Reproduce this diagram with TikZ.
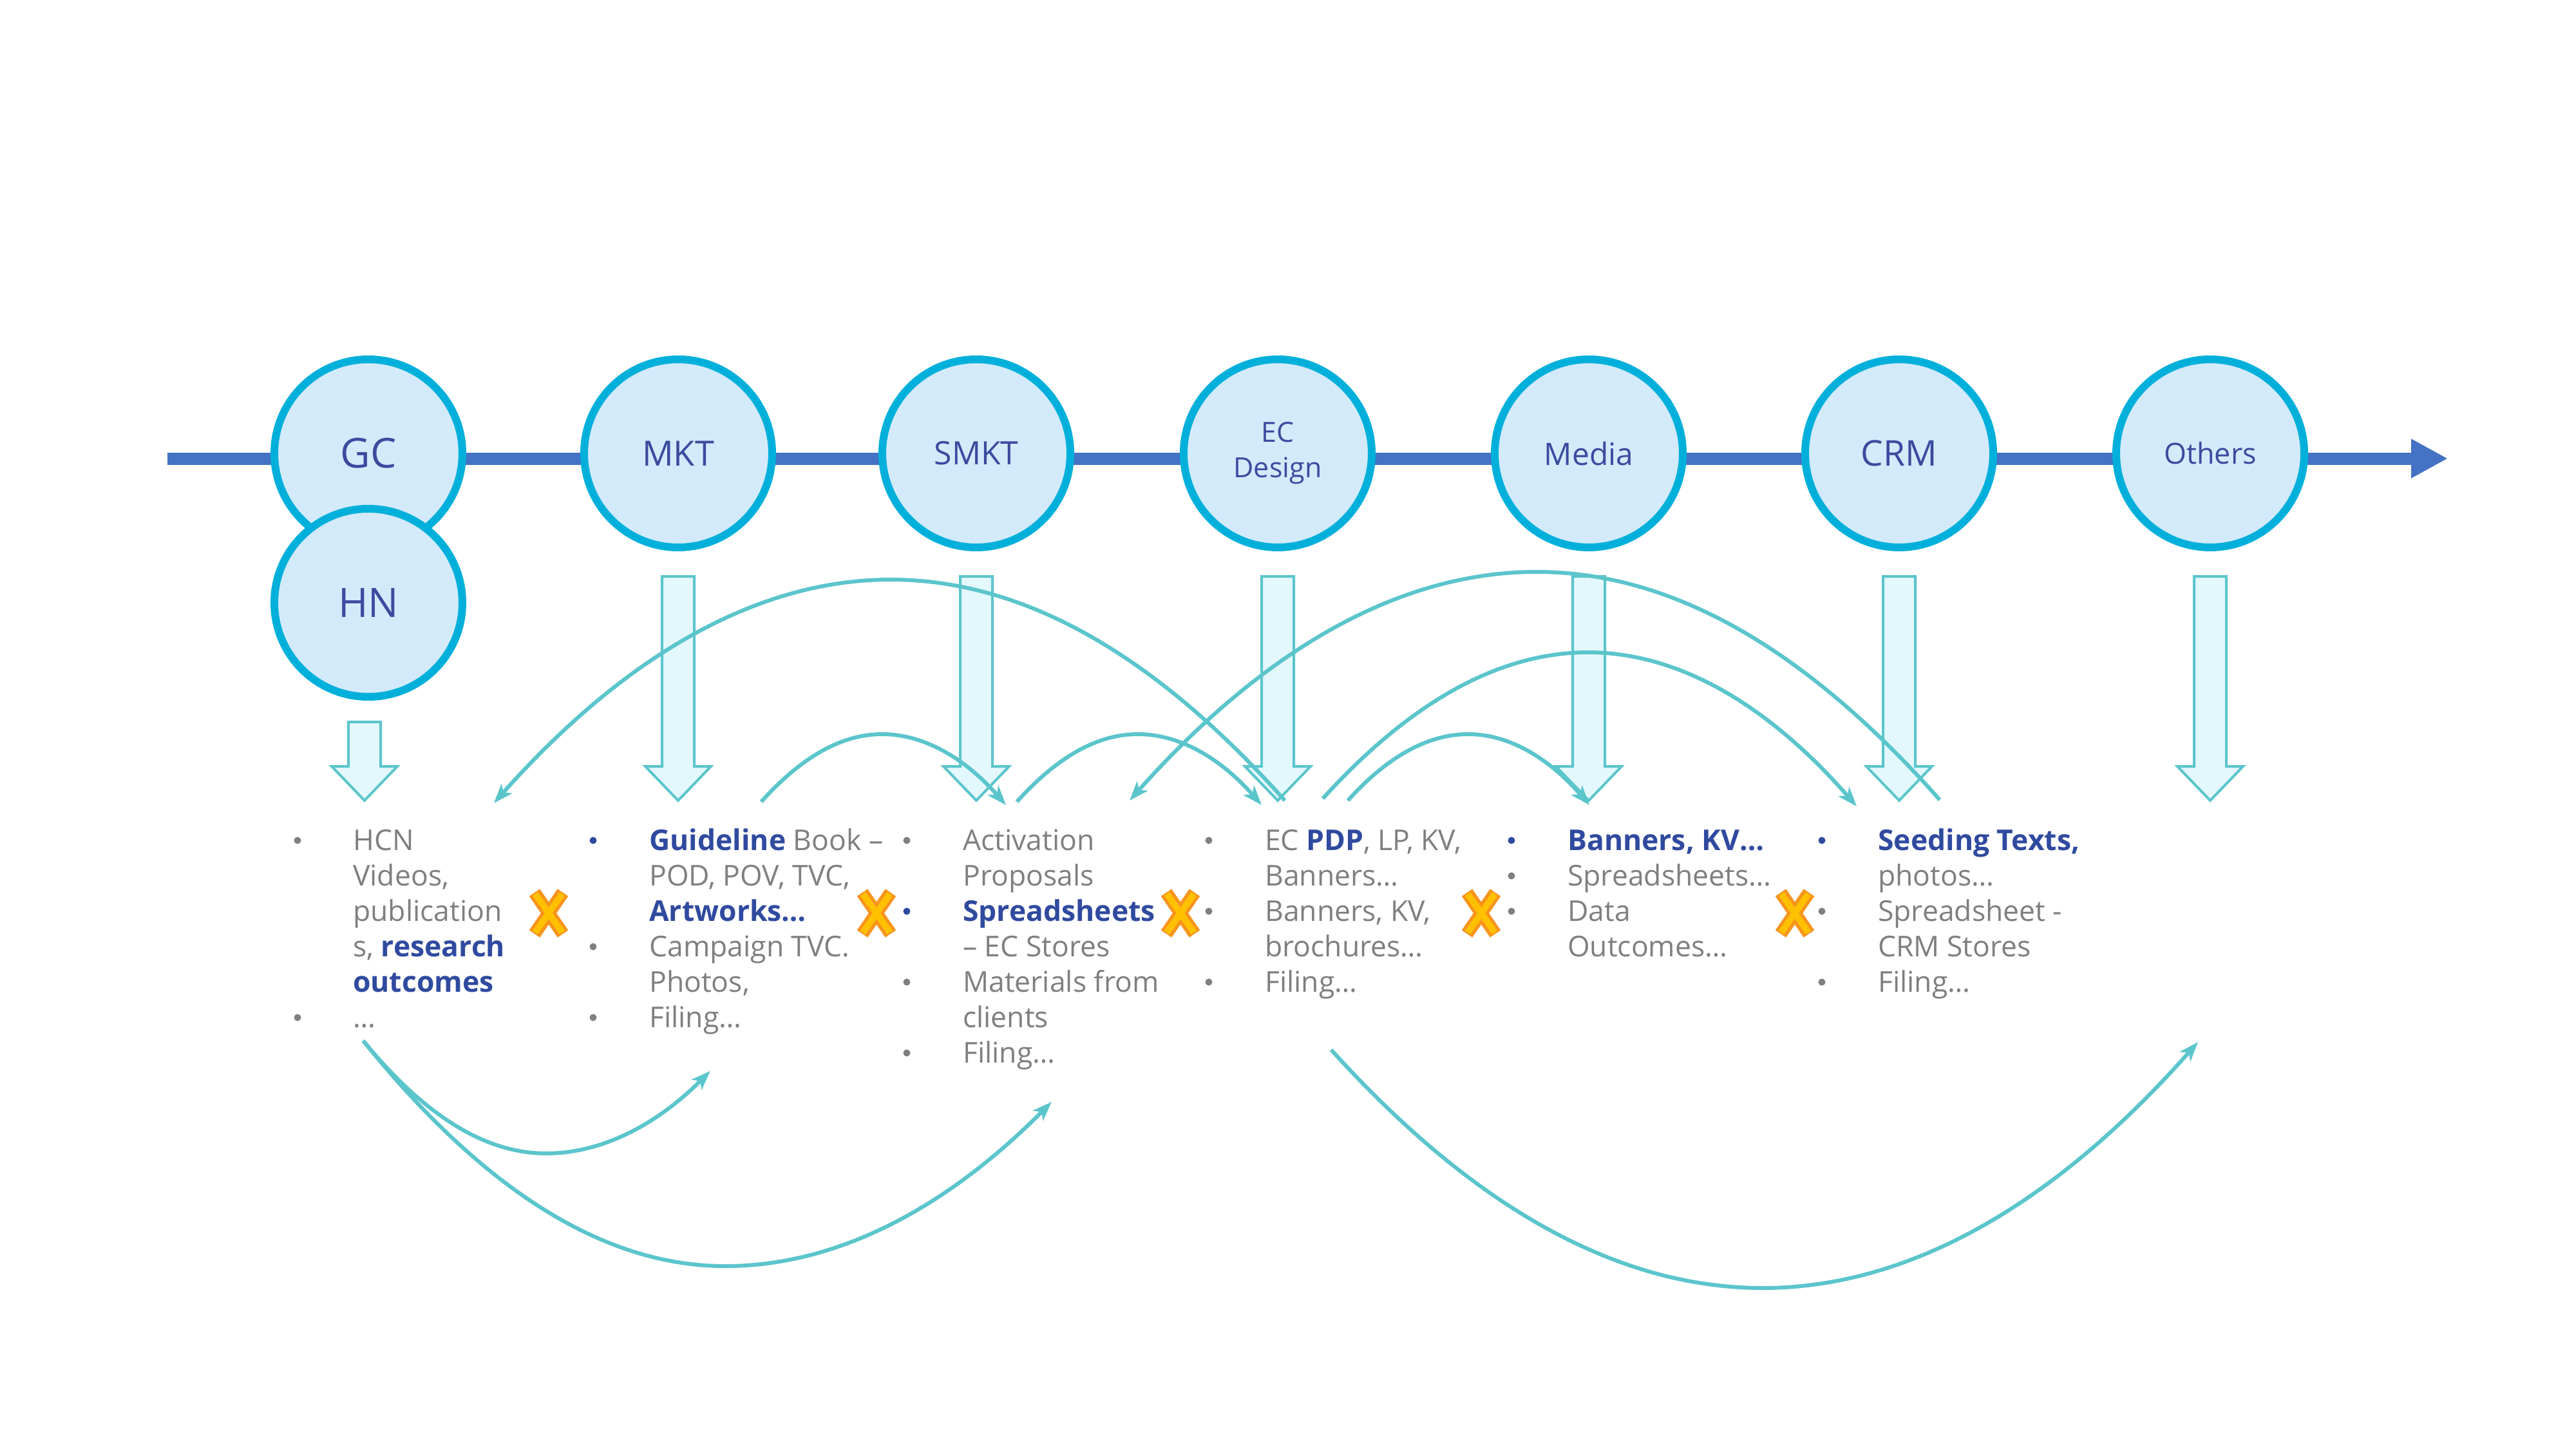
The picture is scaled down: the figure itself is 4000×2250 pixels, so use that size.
\documentclass[tikz,border=0pt]{standalone}
\usepackage{fontspec}
\setmainfont{Open Sans}
\newfontfamily\circfont{Open Sans}
\usetikzlibrary{arrows.meta}
\definecolor{axisblue}{HTML}{4472C4}
\definecolor{circfill}{HTML}{D3EAFB}
\definecolor{circline}{HTML}{00B0DB}
\definecolor{circtext}{HTML}{3A4B9F}
\definecolor{conncol}{HTML}{5BC5CC}
\definecolor{barrfill}{HTML}{E3F8FD}
\definecolor{tgrey}{HTML}{7F7F7F}
\definecolor{tblue}{HTML}{2F4A9F}
\definecolor{xorange}{HTML}{F7941D}
\definecolor{xyellow}{HTML}{FFC000}
\newcommand\hb[1]{{\bfseries\color{tblue}#1}}
\newcommand\csz[1]{\circfont\fontsize{#1}{#1}\selectfont}
\newcommand\barrow[2]{\draw[barr] (#1-25,#2) -- (#1+25,#2) -- (#1+25,1190) -- (#1+51,1190) -- (#1,1243) -- (#1-51,1190) -- (#1-25,1190) -- cycle;}
\newcommand\xmk[2]{%
  \draw[xo] (#1-22,#2-32) -- (#1+22,#2+32) (#1-22,#2+32) -- (#1+22,#2-32);%
  \draw[xy] (#1-21,#2-30) -- (#1+21,#2+30) (#1-21,#2+30) -- (#1+21,#2-30);}
\newcommand\gb[2]{\fill[tgrey] (#1,#2-15) circle[radius=5.5pt];}
\newcommand\bb[2]{\fill[tblue] (#1,#2-15) circle[radius=5.5pt];}
\begin{document}
\begin{tikzpicture}[x=1pt,y=-1pt,
  circ/.style={circle, minimum size=292pt, inner sep=0pt, line width=12pt, draw=circline, fill=circfill, text=circtext, align=center},
  axisln/.style={line width=19pt, draw=axisblue, -{Triangle[length=57pt,width=57pt]}},
  conn/.style={draw=conncol, line width=6pt, -{Stealth[length=30pt,width=22pt,inset=8pt]}},
  barr/.style={draw=conncol, line width=4pt, fill=barrfill, line join=miter},
  xo/.style={draw=xorange, line width=20pt},
  xy/.style={draw=xyellow, line width=10pt},
  txt/.style={anchor=base west, inner sep=0pt, text=tgrey, font=\fontsize{44.5}{55}\selectfont}]
\fill[white] (0,0) rectangle (4000,2250);
\useasboundingbox (0,0) rectangle (4000,2250);

% axis
\coordinate (axs) at (260,712);
\coordinate (axe) at (3801,712);
\draw[axisln] (axs) -- (axe);

% circles
\node[circ, font=\csz{64}] (gc) at (572,704) {GC};
\node[circ, font=\csz{63}] (hn) at (572,936) {HN};
\node[circ, font=\csz{54}] (mkt) at (1053,704) {MKT};
\node[circ, font=\csz{50}] (smkt) at (1516,704) {SMKT};
\node[circ, font=\circfont\fontsize{43}{55}\selectfont] (ec) at (1984,704) {EC\\Design};
\node[circ, font=\csz{48}] (media) at (2467,704) {Media};
\node[circ, font=\csz{55}] (crm) at (2949,704) {CRM};
\node[circ, font=\csz{45}] (oth) at (3432,704) {Others};

% block arrows
\barrow{566}{1121}
\barrow{1053}{895}
\barrow{1516}{895}
\barrow{1984}{895}
\barrow{2467}{895}
\barrow{2949}{895}
\barrow{3432}{895}

% text columns
\gb{462}{1320}
\node[txt] (a1) at (548,1320) {HCN};
\node[txt] (a2) at (548,1375) {Videos,};
\node[txt] (a3) at (548,1430) {publication};
\node[txt] (a4) at (548,1485) {s, \hb{research}};
\node[txt] (a5) at (548,1540) {\hb{outcomes}};
\gb{462}{1595}
\node[txt] (a6) at (548,1595) {…};

\bb{921}{1320}
\node[txt] (b1) at (1008,1320) {\hb{Guideline} Book –};
\node[txt] (b2) at (1008,1375) {POD, POV, TVC,};
\node[txt] (b3) at (1008,1430) {\hb{Artworks…}};
\gb{921}{1485}
\node[txt] (b4) at (1008,1485) {Campaign TVC.};
\node[txt] (b5) at (1008,1540) {Photos,};
\gb{921}{1595}
\node[txt] (b6) at (1008,1595) {Filing…};

\gb{1408}{1320}
\node[txt] (c1) at (1495,1320) {Activation};
\node[txt] (c2) at (1495,1375) {Proposals};
\bb{1408}{1430}
\node[txt] (c3) at (1495,1430) {\hb{Spreadsheets}};
\node[txt] (c4) at (1495,1485) {– EC Stores};
\gb{1408}{1540}
\node[txt] (c5) at (1495,1540) {Materials from};
\node[txt] (c6) at (1495,1595) {clients};
\gb{1408}{1650}
\node[txt] (c7) at (1495,1650) {Filing…};

\gb{1877}{1320}
\node[txt] (d1) at (1964,1320) {EC \hb{PDP}, LP, KV,};
\node[txt] (d2) at (1964,1375) {Banners…};
\gb{1877}{1430}
\node[txt] (d3) at (1964,1430) {Banners, KV,};
\node[txt] (d4) at (1964,1485) {brochures…};
\gb{1877}{1540}
\node[txt] (d5) at (1964,1540) {Filing…};

\bb{2347}{1320}
\node[txt] (e1) at (2434,1320) {\hb{Banners, KV…}};
\gb{2347}{1375}
\node[txt] (e2) at (2434,1375) {Spreadsheets…};
\gb{2347}{1430}
\node[txt] (e3) at (2434,1430) {Data};
\node[txt] (e4) at (2434,1485) {Outcomes…};

\bb{2829}{1320}
\node[txt] (f1) at (2916,1320) {\hb{Seeding Texts,}};
\node[txt] (f2) at (2916,1375) {photos…};
\gb{2829}{1430}
\node[txt] (f3) at (2916,1430) {Spreadsheet -};
\node[txt] (f4) at (2916,1485) {CRM Stores};
\gb{2829}{1540}
\node[txt] (f5) at (2916,1540) {Filing…};

% connector end points
\coordinate (k1s) at (1995,1243); \coordinate (k1e) at (767,1247);
\coordinate (k2s) at (1182,1245); \coordinate (k2e) at (1562,1250);
\coordinate (k3s) at (1579,1245); \coordinate (k3e) at (1959,1250);
\coordinate (k4s) at (3012,1242); \coordinate (k4e) at (1754,1243);
\coordinate (k5s) at (2054,1240); \coordinate (k5e) at (2883,1252);
\coordinate (k6s) at (2093,1243); \coordinate (k6e) at (2468,1250);
\coordinate (k7s) at (564,1616);  \coordinate (k7e) at (1103,1663);
\coordinate (k8e) at (1633,1711);
\coordinate (k9s) at (2067,1630); \coordinate (k9e) at (3413,1618);

\draw[conn] (k1s) .. controls (1791,1014) and (1587,900) .. (1383,900) .. controls (1178,900) and (972,1016) .. (k1e);
\draw[conn] (k2s) .. controls (1245,1175) and (1307,1140) .. (1370,1140) .. controls (1434,1140) and (1498,1177) .. (k2e);
\draw[conn] (k3s) .. controls (1642,1175) and (1704,1140) .. (1767,1140) .. controls (1831,1140) and (1895,1177) .. (k3e);
\draw[conn] (k4s) .. controls (2803,1006) and (2595,888) .. (2386,888) .. controls (2175,888) and (1965,1006) .. (k4e);
\draw[conn] (k5s) .. controls (2191,1089) and (2329,1013) .. (2466,1013) .. controls (2605,1013) and (2744,1093) .. (k5e);
\draw[conn] (k6s) .. controls (2155,1174) and (2218,1140) .. (2280,1140) .. controls (2343,1140) and (2405,1177) .. (k6e);
\draw[conn] (k7s) .. controls (659,1732) and (753,1791) .. (848,1791) .. controls (933,1791) and (1018,1748) .. (k7e);
\draw[conn] (k7s) .. controls (751,1849) and (939,1966) .. (1126,1966) .. controls (1295,1966) and (1464,1881) .. (k8e);
\draw[conn] (k9s) .. controls (2290,1877) and (2514,2000) .. (2737,2000) .. controls (2962,2000) and (3188,1873) .. (k9e);

% cross marks
\xmk{852}{1418}
\xmk{1361}{1418}
\xmk{1833}{1418}
\xmk{2300}{1418}
\xmk{2787}{1418}
\end{tikzpicture}
\end{document}
